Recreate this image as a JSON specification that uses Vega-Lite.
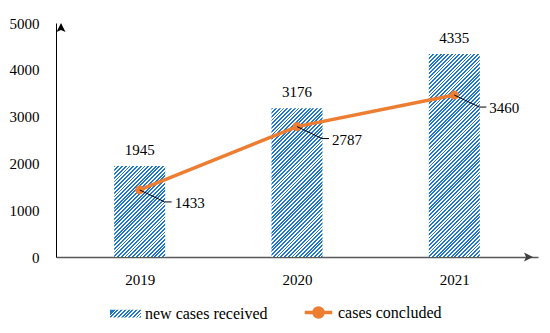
{
"$schema":"https://vega.github.io/schema/vega-lite/v6.json",
"width":482,"height":234,
"autosize":{"type":"none"},
"padding":{"left":56,"top":23,"right":12,"bottom":76},
"params":[{"name":"hatch","value":[
{"offset":0,"color":"#1e78d2"},{"offset":0.0071,"color":"#1e78d2"},{"offset":0.0071,"color":"#fff"},{"offset":0.0143,"color":"#fff"},
{"offset":0.0143,"color":"#1e78d2"},{"offset":0.0214,"color":"#1e78d2"},{"offset":0.0214,"color":"#fff"},{"offset":0.0286,"color":"#fff"},
{"offset":0.0286,"color":"#1e78d2"},{"offset":0.0357,"color":"#1e78d2"},{"offset":0.0357,"color":"#fff"},{"offset":0.0429,"color":"#fff"},
{"offset":0.0429,"color":"#1e78d2"},{"offset":0.05,"color":"#1e78d2"},{"offset":0.05,"color":"#fff"},{"offset":0.0571,"color":"#fff"},
{"offset":0.0571,"color":"#1e78d2"},{"offset":0.0643,"color":"#1e78d2"},{"offset":0.0643,"color":"#fff"},{"offset":0.0714,"color":"#fff"},
{"offset":0.0714,"color":"#1e78d2"},{"offset":0.0786,"color":"#1e78d2"},{"offset":0.0786,"color":"#fff"},{"offset":0.0857,"color":"#fff"},
{"offset":0.0857,"color":"#1e78d2"},{"offset":0.0929,"color":"#1e78d2"},{"offset":0.0929,"color":"#fff"},{"offset":0.1,"color":"#fff"},
{"offset":0.1,"color":"#1e78d2"},{"offset":0.1071,"color":"#1e78d2"},{"offset":0.1071,"color":"#fff"},{"offset":0.1143,"color":"#fff"},
{"offset":0.1143,"color":"#1e78d2"},{"offset":0.1214,"color":"#1e78d2"},{"offset":0.1214,"color":"#fff"},{"offset":0.1286,"color":"#fff"},
{"offset":0.1286,"color":"#1e78d2"},{"offset":0.1357,"color":"#1e78d2"},{"offset":0.1357,"color":"#fff"},{"offset":0.1429,"color":"#fff"},
{"offset":0.1429,"color":"#1e78d2"},{"offset":0.15,"color":"#1e78d2"},{"offset":0.15,"color":"#fff"},{"offset":0.1571,"color":"#fff"},
{"offset":0.1571,"color":"#1e78d2"},{"offset":0.1643,"color":"#1e78d2"},{"offset":0.1643,"color":"#fff"},{"offset":0.1714,"color":"#fff"},
{"offset":0.1714,"color":"#1e78d2"},{"offset":0.1786,"color":"#1e78d2"},{"offset":0.1786,"color":"#fff"},{"offset":0.1857,"color":"#fff"},
{"offset":0.1857,"color":"#1e78d2"},{"offset":0.1929,"color":"#1e78d2"},{"offset":0.1929,"color":"#fff"},{"offset":0.2,"color":"#fff"},
{"offset":0.2,"color":"#1e78d2"},{"offset":0.2071,"color":"#1e78d2"},{"offset":0.2071,"color":"#fff"},{"offset":0.2143,"color":"#fff"},
{"offset":0.2143,"color":"#1e78d2"},{"offset":0.2214,"color":"#1e78d2"},{"offset":0.2214,"color":"#fff"},{"offset":0.2286,"color":"#fff"},
{"offset":0.2286,"color":"#1e78d2"},{"offset":0.2357,"color":"#1e78d2"},{"offset":0.2357,"color":"#fff"},{"offset":0.2429,"color":"#fff"},
{"offset":0.2429,"color":"#1e78d2"},{"offset":0.25,"color":"#1e78d2"},{"offset":0.25,"color":"#fff"},{"offset":0.2571,"color":"#fff"},
{"offset":0.2571,"color":"#1e78d2"},{"offset":0.2643,"color":"#1e78d2"},{"offset":0.2643,"color":"#fff"},{"offset":0.2714,"color":"#fff"},
{"offset":0.2714,"color":"#1e78d2"},{"offset":0.2786,"color":"#1e78d2"},{"offset":0.2786,"color":"#fff"},{"offset":0.2857,"color":"#fff"},
{"offset":0.2857,"color":"#1e78d2"},{"offset":0.2929,"color":"#1e78d2"},{"offset":0.2929,"color":"#fff"},{"offset":0.3,"color":"#fff"},
{"offset":0.3,"color":"#1e78d2"},{"offset":0.3071,"color":"#1e78d2"},{"offset":0.3071,"color":"#fff"},{"offset":0.3143,"color":"#fff"},
{"offset":0.3143,"color":"#1e78d2"},{"offset":0.3214,"color":"#1e78d2"},{"offset":0.3214,"color":"#fff"},{"offset":0.3286,"color":"#fff"},
{"offset":0.3286,"color":"#1e78d2"},{"offset":0.3357,"color":"#1e78d2"},{"offset":0.3357,"color":"#fff"},{"offset":0.3429,"color":"#fff"},
{"offset":0.3429,"color":"#1e78d2"},{"offset":0.35,"color":"#1e78d2"},{"offset":0.35,"color":"#fff"},{"offset":0.3571,"color":"#fff"},
{"offset":0.3571,"color":"#1e78d2"},{"offset":0.3643,"color":"#1e78d2"},{"offset":0.3643,"color":"#fff"},{"offset":0.3714,"color":"#fff"},
{"offset":0.3714,"color":"#1e78d2"},{"offset":0.3786,"color":"#1e78d2"},{"offset":0.3786,"color":"#fff"},{"offset":0.3857,"color":"#fff"},
{"offset":0.3857,"color":"#1e78d2"},{"offset":0.3929,"color":"#1e78d2"},{"offset":0.3929,"color":"#fff"},{"offset":0.4,"color":"#fff"},
{"offset":0.4,"color":"#1e78d2"},{"offset":0.4071,"color":"#1e78d2"},{"offset":0.4071,"color":"#fff"},{"offset":0.4143,"color":"#fff"},
{"offset":0.4143,"color":"#1e78d2"},{"offset":0.4214,"color":"#1e78d2"},{"offset":0.4214,"color":"#fff"},{"offset":0.4286,"color":"#fff"},
{"offset":0.4286,"color":"#1e78d2"},{"offset":0.4357,"color":"#1e78d2"},{"offset":0.4357,"color":"#fff"},{"offset":0.4429,"color":"#fff"},
{"offset":0.4429,"color":"#1e78d2"},{"offset":0.45,"color":"#1e78d2"},{"offset":0.45,"color":"#fff"},{"offset":0.4571,"color":"#fff"},
{"offset":0.4571,"color":"#1e78d2"},{"offset":0.4643,"color":"#1e78d2"},{"offset":0.4643,"color":"#fff"},{"offset":0.4714,"color":"#fff"},
{"offset":0.4714,"color":"#1e78d2"},{"offset":0.4786,"color":"#1e78d2"},{"offset":0.4786,"color":"#fff"},{"offset":0.4857,"color":"#fff"},
{"offset":0.4857,"color":"#1e78d2"},{"offset":0.4929,"color":"#1e78d2"},{"offset":0.4929,"color":"#fff"},{"offset":0.5,"color":"#fff"},
{"offset":0.5,"color":"#1e78d2"},{"offset":0.5071,"color":"#1e78d2"},{"offset":0.5071,"color":"#fff"},{"offset":0.5143,"color":"#fff"},
{"offset":0.5143,"color":"#1e78d2"},{"offset":0.5214,"color":"#1e78d2"},{"offset":0.5214,"color":"#fff"},{"offset":0.5286,"color":"#fff"},
{"offset":0.5286,"color":"#1e78d2"},{"offset":0.5357,"color":"#1e78d2"},{"offset":0.5357,"color":"#fff"},{"offset":0.5429,"color":"#fff"},
{"offset":0.5429,"color":"#1e78d2"},{"offset":0.55,"color":"#1e78d2"},{"offset":0.55,"color":"#fff"},{"offset":0.5571,"color":"#fff"},
{"offset":0.5571,"color":"#1e78d2"},{"offset":0.5643,"color":"#1e78d2"},{"offset":0.5643,"color":"#fff"},{"offset":0.5714,"color":"#fff"},
{"offset":0.5714,"color":"#1e78d2"},{"offset":0.5786,"color":"#1e78d2"},{"offset":0.5786,"color":"#fff"},{"offset":0.5857,"color":"#fff"},
{"offset":0.5857,"color":"#1e78d2"},{"offset":0.5929,"color":"#1e78d2"},{"offset":0.5929,"color":"#fff"},{"offset":0.6,"color":"#fff"},
{"offset":0.6,"color":"#1e78d2"},{"offset":0.6071,"color":"#1e78d2"},{"offset":0.6071,"color":"#fff"},{"offset":0.6143,"color":"#fff"},
{"offset":0.6143,"color":"#1e78d2"},{"offset":0.6214,"color":"#1e78d2"},{"offset":0.6214,"color":"#fff"},{"offset":0.6286,"color":"#fff"},
{"offset":0.6286,"color":"#1e78d2"},{"offset":0.6357,"color":"#1e78d2"},{"offset":0.6357,"color":"#fff"},{"offset":0.6429,"color":"#fff"},
{"offset":0.6429,"color":"#1e78d2"},{"offset":0.65,"color":"#1e78d2"},{"offset":0.65,"color":"#fff"},{"offset":0.6571,"color":"#fff"},
{"offset":0.6571,"color":"#1e78d2"},{"offset":0.6643,"color":"#1e78d2"},{"offset":0.6643,"color":"#fff"},{"offset":0.6714,"color":"#fff"},
{"offset":0.6714,"color":"#1e78d2"},{"offset":0.6786,"color":"#1e78d2"},{"offset":0.6786,"color":"#fff"},{"offset":0.6857,"color":"#fff"},
{"offset":0.6857,"color":"#1e78d2"},{"offset":0.6929,"color":"#1e78d2"},{"offset":0.6929,"color":"#fff"},{"offset":0.7,"color":"#fff"},
{"offset":0.7,"color":"#1e78d2"},{"offset":0.7071,"color":"#1e78d2"},{"offset":0.7071,"color":"#fff"},{"offset":0.7143,"color":"#fff"},
{"offset":0.7143,"color":"#1e78d2"},{"offset":0.7214,"color":"#1e78d2"},{"offset":0.7214,"color":"#fff"},{"offset":0.7286,"color":"#fff"},
{"offset":0.7286,"color":"#1e78d2"},{"offset":0.7357,"color":"#1e78d2"},{"offset":0.7357,"color":"#fff"},{"offset":0.7429,"color":"#fff"},
{"offset":0.7429,"color":"#1e78d2"},{"offset":0.75,"color":"#1e78d2"},{"offset":0.75,"color":"#fff"},{"offset":0.7571,"color":"#fff"},
{"offset":0.7571,"color":"#1e78d2"},{"offset":0.7643,"color":"#1e78d2"},{"offset":0.7643,"color":"#fff"},{"offset":0.7714,"color":"#fff"},
{"offset":0.7714,"color":"#1e78d2"},{"offset":0.7786,"color":"#1e78d2"},{"offset":0.7786,"color":"#fff"},{"offset":0.7857,"color":"#fff"},
{"offset":0.7857,"color":"#1e78d2"},{"offset":0.7929,"color":"#1e78d2"},{"offset":0.7929,"color":"#fff"},{"offset":0.8,"color":"#fff"},
{"offset":0.8,"color":"#1e78d2"},{"offset":0.8071,"color":"#1e78d2"},{"offset":0.8071,"color":"#fff"},{"offset":0.8143,"color":"#fff"},
{"offset":0.8143,"color":"#1e78d2"},{"offset":0.8214,"color":"#1e78d2"},{"offset":0.8214,"color":"#fff"},{"offset":0.8286,"color":"#fff"},
{"offset":0.8286,"color":"#1e78d2"},{"offset":0.8357,"color":"#1e78d2"},{"offset":0.8357,"color":"#fff"},{"offset":0.8429,"color":"#fff"},
{"offset":0.8429,"color":"#1e78d2"},{"offset":0.85,"color":"#1e78d2"},{"offset":0.85,"color":"#fff"},{"offset":0.8571,"color":"#fff"},
{"offset":0.8571,"color":"#1e78d2"},{"offset":0.8643,"color":"#1e78d2"},{"offset":0.8643,"color":"#fff"},{"offset":0.8714,"color":"#fff"},
{"offset":0.8714,"color":"#1e78d2"},{"offset":0.8786,"color":"#1e78d2"},{"offset":0.8786,"color":"#fff"},{"offset":0.8857,"color":"#fff"},
{"offset":0.8857,"color":"#1e78d2"},{"offset":0.8929,"color":"#1e78d2"},{"offset":0.8929,"color":"#fff"},{"offset":0.9,"color":"#fff"},
{"offset":0.9,"color":"#1e78d2"},{"offset":0.9071,"color":"#1e78d2"},{"offset":0.9071,"color":"#fff"},{"offset":0.9143,"color":"#fff"},
{"offset":0.9143,"color":"#1e78d2"},{"offset":0.9214,"color":"#1e78d2"},{"offset":0.9214,"color":"#fff"},{"offset":0.9286,"color":"#fff"},
{"offset":0.9286,"color":"#1e78d2"},{"offset":0.9357,"color":"#1e78d2"},{"offset":0.9357,"color":"#fff"},{"offset":0.9429,"color":"#fff"},
{"offset":0.9429,"color":"#1e78d2"},{"offset":0.95,"color":"#1e78d2"},{"offset":0.95,"color":"#fff"},{"offset":0.9571,"color":"#fff"},
{"offset":0.9571,"color":"#1e78d2"},{"offset":0.9643,"color":"#1e78d2"},{"offset":0.9643,"color":"#fff"},{"offset":0.9714,"color":"#fff"},
{"offset":0.9714,"color":"#1e78d2"},{"offset":0.9786,"color":"#1e78d2"},{"offset":0.9786,"color":"#fff"},{"offset":0.9857,"color":"#fff"},
{"offset":0.9857,"color":"#1e78d2"},{"offset":0.9929,"color":"#1e78d2"},{"offset":0.9929,"color":"#fff"},{"offset":1,"color":"#fff"}
]}],
"config":{"view":{"stroke":null},"font":"Liberation Serif"},
"data":{"values":[
{"year":2019,"received":1945,"concluded":1433},
{"year":2020,"received":3176,"concluded":2787},
{"year":2021,"received":4335,"concluded":3460}
]},
"layer":[
{"mark":{"type":"bar","width":51,"fill":{"expr":"{gradient:'linear',x1:0,y1:0,x2:261.6*51/(2601+pow(datum.received*0.0468,2)),y2:261.6*datum.received*0.0468/(2601+pow(datum.received*0.0468,2)),stops:hatch}"}},
 "encoding":{
 "x":{"field":"year","type":"quantitative","scale":{"domain":[2018.5,2021.5],"nice":false,"zero":false},
 "axis":{"values":[2019,2020,2021],"format":"d","title":null,"ticks":false,"grid":false,"labelPadding":15,"labelFont":"Liberation Serif","labelFontSize":15,"labelColor":"#000","domainColor":"#595959","domainWidth":1.5}},
 "y":{"field":"received","type":"quantitative","scale":{"domain":[0,5000],"nice":false},
 "axis":{"values":[0,1000,2000,3000,4000,5000],"format":"d","title":null,"ticks":false,"grid":false,"labelPadding":17,"labelFont":"Liberation Serif","labelFontSize":15,"labelColor":"#000","domainColor":"#000","domainWidth":1}}}},
{"mark":{"type":"text","dy":-11,"baseline":"alphabetic","align":"center","font":"Liberation Serif","fontSize":15,"color":"#000"},
 "encoding":{"x":{"field":"year","type":"quantitative"},"y":{"field":"received","type":"quantitative"},"text":{"field":"received","type":"quantitative","format":"d"}}},
{"mark":{"type":"line","strokeWidth":3.5,"point":{"filled":true,"size":80,"opacity":1}},
 "encoding":{"x":{"field":"year","type":"quantitative"},"y":{"field":"concluded","type":"quantitative"},
 "color":{"datum":"cases concluded","scale":{"domain":["new cases received","cases concluded"],
 "range":[{"expr":"{gradient:'linear',x1:0,y1:0,x2:9.28,y2:1.465,stops:hatch}"},"#ED7D31"]},
 "legend":{"orient":"none","legendX":52,"legendY":272,"direction":"horizontal","title":null,"symbolSize":961,"symbolStrokeWidth":3.5,"labelFont":"Liberation Serif","labelFontSize":16,"labelColor":"#000","labelOffset":2,"columnPadding":29,"padding":0,
 "encode":{"symbols":{"update":{
 "shape":{"signal":"datum.value === 'cases concluded' ? 'M-0.887,0H0.887M0.29,0A0.29,0.29,0,1,1,-0.29,0A0.29,0.29,0,1,1,0.29,0' : 'M-0.887,-0.14H0.887V0.14H-0.887Z'"},
 "opacity":{"value":1}}}}}}}},
{"mark":{"type":"rule","color":"#000","strokeWidth":1,"x2Offset":25,"y2Offset":12},
 "encoding":{"x":{"field":"year","type":"quantitative"},"x2":{"field":"year"},"y":{"field":"concluded","type":"quantitative"},"y2":{"field":"concluded"}}},
{"mark":{"type":"rule","color":"#000","strokeWidth":1,"xOffset":25,"x2Offset":32,"yOffset":12,"y2Offset":12},
 "encoding":{"x":{"field":"year","type":"quantitative"},"x2":{"field":"year"},"y":{"field":"concluded","type":"quantitative"},"y2":{"field":"concluded"}}},
{"mark":{"type":"text","dx":35,"dy":13,"align":"left","baseline":"middle","font":"Liberation Serif","fontSize":15,"color":"#000"},
 "encoding":{"x":{"field":"year","type":"quantitative"},"y":{"field":"concluded","type":"quantitative"},"text":{"field":"concluded","type":"quantitative","format":"d"}}},
{"data":{"values":[{"edge":"top"}]},
 "mark":{"type":"point","shape":"M0,0L0.45,0.9L0,0.7L-0.45,0.9Z","size":400,"filled":true,"opacity":1,"color":"#000"},
 "encoding":{"x":{"datum":2018.5,"type":"quantitative"},"y":{"datum":5000,"type":"quantitative"}}},
{"data":{"values":[{"edge":"right"}]},
 "mark":{"type":"point","shape":"M0,0L-0.9,-0.45L-0.7,0L-0.9,0.45Z","size":400,"filled":true,"opacity":1,"color":"#404040"},
 "encoding":{"x":{"datum":2021.5,"type":"quantitative"},"y":{"datum":0,"type":"quantitative"}}}
]
}
